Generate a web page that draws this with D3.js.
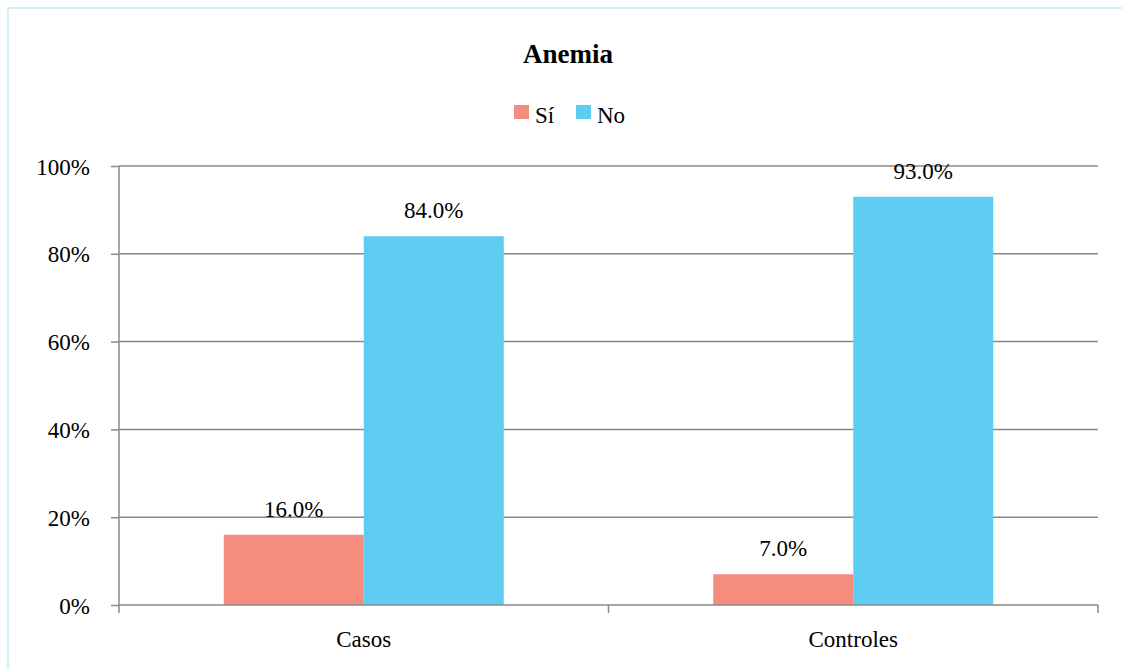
<!DOCTYPE html>
<html>
<head>
<meta charset="utf-8">
<script src="https://cdn.jsdelivr.net/npm/d3@7"></script>
<style>
  html, body { margin: 0; padding: 0; background: #fff; }
  svg { display: block; }
  svg text { font-family: "Liberation Serif", "DejaVu Serif", "Noto Serif", serif !important; }
</style>
</head>
<body>
<svg id="chart" width="1122" height="669"></svg>
<script>
// Anemia by group: share of "Sí" and "No"
const categories = ["Casos", "Controles"];
const seriesNames = ["Sí", "No"];
const siValues = [16.0, 7.0];
const noValues = [84.0, 93.0];
const yTicks = [0, 20, 40, 60, 80, 100];
const title = "Anemia";
const colors = { "Sí": "#F58D7E", "No": "#5FCDF2" };

const rows = categories.map((c, i) => ({ category: c, "Sí": siValues[i], "No": noValues[i] }));

const svg = d3.select("#chart");
const W = 1122, H = 669;
const margin = { left: 119, top: 166 };
const plotW = 1098 - margin.left;
const plotH = 605 - margin.top;

// chart frame (light blue, runs past the right/bottom edge)
svg.append("rect")
  .attr("x", 8).attr("y", 8)
  .attr("width", W + 20).attr("height", H + 20)
  .attr("fill", "none")
  .attr("stroke", "#d3effb")
  .attr("stroke-width", 2);

const g = svg.append("g").attr("transform", `translate(${margin.left},${margin.top})`);

const x0 = d3.scaleBand().domain(categories).range([0, plotW]).paddingInner(0).paddingOuter(0);
const x1 = d3.scaleBand().domain(seriesNames).range([0, x0.bandwidth()]).paddingInner(0).paddingOuter(0.748);
const y = d3.scaleLinear().domain([0, 100]).range([plotH, 0]);

// horizontal gridlines
g.append("g").selectAll("line")
  .data(yTicks.filter(t => t > 0))
  .join("line")
  .attr("x1", 0).attr("x2", plotW)
  .attr("y1", d => y(d)).attr("y2", d => y(d))
  .attr("stroke", "#888").attr("stroke-width", 1.5);

// bars
const groups = g.append("g").selectAll("g")
  .data(rows)
  .join("g")
  .attr("transform", d => `translate(${x0(d.category)},0)`);

groups.selectAll("rect")
  .data(d => seriesNames.map(s => ({ key: s, value: d[s] })))
  .join("rect")
  .attr("x", d => x1(d.key))
  .attr("width", x1.bandwidth())
  .attr("y", d => y(d.value))
  .attr("height", d => y(0) - y(d.value))
  .attr("fill", d => colors[d.key]);

// value labels
groups.selectAll("text.val")
  .data(d => seriesNames.map(s => ({ key: s, value: d[s] })))
  .join("text")
  .attr("class", "val")
  .attr("x", d => x1(d.key) + x1.bandwidth() / 2)
  .attr("y", d => y(d.value) - 18)
  .attr("text-anchor", "middle")
  .attr("font-size", 23)
  .attr("fill", "#000")
  .text(d => d.value.toFixed(1) + "%");

// y axis
const yAxis = d3.axisLeft(y).tickValues(yTicks).tickFormat(d => d + "%").tickSize(8).tickPadding(21);
const ya = g.append("g").call(yAxis);
ya.select(".domain").attr("stroke", "#888").attr("stroke-width", 1.5).attr("d", `M0,${plotH}V0`);
ya.selectAll(".tick line").attr("stroke", "#888").attr("stroke-width", 1.5);
ya.selectAll(".tick text").attr("font-size", 23).attr("fill", "#000").attr("dy", "0.35em");

// x axis
const xa = g.append("g").attr("transform", `translate(0,${plotH})`);
xa.append("line").attr("x1", 0).attr("x2", plotW).attr("y1", 0).attr("y2", 0)
  .attr("stroke", "#888").attr("stroke-width", 1.5);
const boundaries = [0, ...categories.map(c => x0(c) + x0.bandwidth())];
xa.selectAll("line.tk").data(boundaries).join("line").attr("class", "tk")
  .attr("x1", d => d).attr("x2", d => d).attr("y1", 0).attr("y2", 8)
  .attr("stroke", "#888").attr("stroke-width", 1.5);
xa.selectAll("text").data(categories).join("text")
  .attr("x", d => x0(d) + x0.bandwidth() / 2)
  .attr("y", 42)
  .attr("text-anchor", "middle")
  .attr("font-size", 23)
  .attr("fill", "#000")
  .text(d => d);

// title
svg.append("text")
  .attr("x", 568).attr("y", 63)
  .attr("text-anchor", "middle")
  .attr("font-size", 27).attr("font-weight", "bold")
  .attr("fill", "#000")
  .text(title);

// legend
const legend = svg.append("g");
const legendItems = [
  { key: "Sí", x: 514 },
  { key: "No", x: 576 }
];
legend.selectAll("rect").data(legendItems).join("rect")
  .attr("x", d => d.x).attr("y", 105)
  .attr("width", 15).attr("height", 14)
  .attr("fill", d => colors[d.key]);
legend.selectAll("text").data(legendItems).join("text")
  .attr("x", d => d.x + 21).attr("y", 123)
  .attr("font-size", 23)
  .attr("fill", "#000")
  .text(d => d.key);
</script>
</body>
</html>
